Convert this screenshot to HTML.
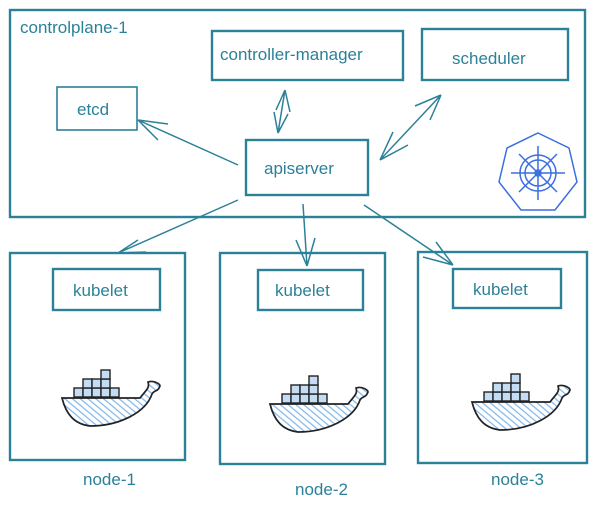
<!DOCTYPE html>
<html><head><meta charset="utf-8"><style>
html,body{margin:0;padding:0;background:#fff;width:601px;height:509px;overflow:hidden}
text{font-family:"Liberation Sans",sans-serif;fill:#2b8198}
</style></head><body>
<svg width="601" height="509" viewBox="0 0 601 509" xmlns="http://www.w3.org/2000/svg">
<defs>
<pattern id="h" width="5" height="5" patternUnits="userSpaceOnUse" patternTransform="rotate(-50)">
<rect width="5" height="5" fill="#fff"/><line x1="0" y1="0" x2="0" y2="5" stroke="#7fb6ea" stroke-width="2.4"/></pattern>
<g id="whale">
<path d="M2,22 L80,22 C86,14 90,12 88,6 C94,4 100,8 100,10 C98,16 94,14 92,18 C86,36 60,50 30,50 C14,48 6,38 2,22 Z" fill="url(#h)" stroke="#222" stroke-width="1.7"/>
<g fill="#c4ddf5" stroke="#222" stroke-width="1.4">
<rect x="14" y="12" width="9" height="9"/><rect x="23" y="12" width="9" height="9"/><rect x="32" y="12" width="9" height="9"/><rect x="41" y="12" width="9" height="9"/><rect x="50" y="12" width="9" height="9"/>
<rect x="23" y="3" width="9" height="9"/><rect x="32" y="3" width="9" height="9"/><rect x="41" y="3" width="9" height="9"/>
<rect x="41" y="-6" width="9" height="9"/></g>
</g>
</defs>
<g fill="none" stroke="#2b8198" stroke-width="2.4">
<rect x="10" y="10" width="575" height="207"/>
<rect x="212" y="31" width="191" height="49"/>
<rect x="422" y="29" width="146" height="51"/>
<rect x="57" y="87" width="80" height="43" stroke-width="1.6"/>
<rect x="246" y="140" width="122" height="55"/>
<rect x="10" y="253" width="175" height="207"/>
<rect x="53" y="269" width="107" height="41"/>
<rect x="220" y="253" width="165" height="211"/>
<rect x="258" y="270" width="105" height="40"/>
<rect x="418" y="252" width="169" height="211"/>
<rect x="453" y="269" width="108" height="39"/>
</g>
<g fill="none" stroke="#2b8198" stroke-width="1.5">
<path d="M285,90 L278,133 M285,90 L276,110 M285,90 L290,112 M278,133 L274,112 M278,133 L288,114"/>
<path d="M441,95 L380,160 M441,95 L415,106 M441,95 L430,120 M380,160 L393,132 M380,160 L408,145"/>
<path d="M238,165 L138,120 M138,120 L168,124 M138,120 L158,140"/>
<path d="M238,200 L118,253 M118,253 L138,240 M118,253 L146,252"/>
<path d="M303,204 L307,266 M307,266 L296,240 M307,266 L315,238"/>
<path d="M364,205 L453,265 M453,265 L423,257 M453,265 L436,242"/>
</g>
<g transform="translate(538,173)" fill="none" stroke="#3a6fe0" stroke-width="1.5">
<polygon points="0,-40 31,-25 39,9 17,37 -17,37 -39,9 -31,-25"/>
<circle r="18"/><circle r="13"/><circle r="3"/>
<path d="M0,-27 V27 M-27,0 H27 M-19,-19 L19,19 M19,-19 L-19,19"/>
</g>
<g font-size="17">
<text x="20" y="33">controlplane-1</text>
<text x="220" y="60">controller-manager</text>
<text x="452" y="64">scheduler</text>
<text x="77" y="115">etcd</text>
<text x="264" y="174">apiserver</text>
<text x="73" y="296">kubelet</text>
<text x="275" y="296">kubelet</text>
<text x="473" y="295">kubelet</text>
<text x="83" y="485">node-1</text>
<text x="295" y="495">node-2</text>
<text x="491" y="485">node-3</text>
</g>
<use href="#whale" transform="translate(60,376)"/>
<use href="#whale" transform="translate(268,382)"/>
<use href="#whale" transform="translate(470,380)"/>
</svg>
</body></html>
